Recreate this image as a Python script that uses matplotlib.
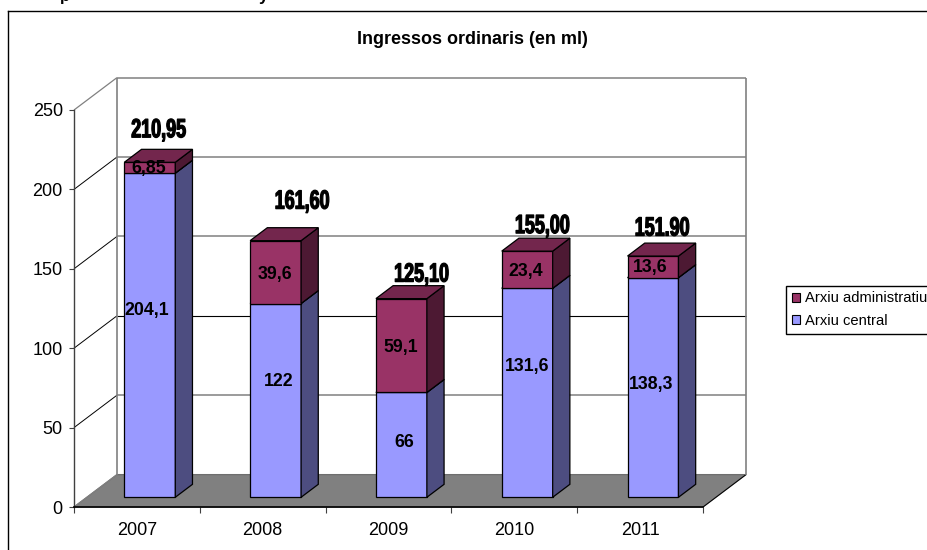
import matplotlib
matplotlib.use("Agg")
import matplotlib.pyplot as plt
from matplotlib.lines import Line2D
from matplotlib.patches import Patch
from matplotlib.transforms import Affine2D
import matplotlib.patheffects as pe

plt.rcParams['font.family'] = ['Liberation Sans', 'DejaVu Sans']

# data
years = ['2007', '2008', '2009', '2010', '2011']
arxiu_central = [204.1, 122, 66, 131.6, 138.3]
arxiu_admin = [6.85, 39.6, 59.1, 23.4, 13.6]
central_labels = ['204,1', '122', '66', '131,6', '138,3']
admin_labels = ['6,85', '39,6', '59,1', '23,4', '13,6']
total_labels = ['210,95', '161,60', '125,10', '155,00', '151.90']
y_ticks = [0, 50, 100, 150, 200, 250]

# hand placed label offsets in pixels, the original labels were moved around
central_off = [(-3, 25), (3, 19), (3, 2), (0, 26), (-2, 2.5)]
admin_off = [(-1, -1), (-1, -2), (-1, -2), (-2, -2), (-3, -1)]
total_off = [(9, 32), (27, 39), (20.5, 24), (15.5, 25), (9.5, 27.5)]

W, H = 928, 550
fig = plt.figure(figsize=(W / 100, H / 100), dpi=100)
ax = fig.add_axes([74 / W, 1 - 507 / H, 629 / W, 397 / H])
ax.set_xlim(0, 5)
ax.set_ylim(0, 250)
ax.patch.set_visible(False)

DEPTH_X = 43 / 125.8
DEPTH_Y = 32.4 / 1.588


# squeezes the totals sideways, they are stretched tall in the original
class Squeeze(pe.AbstractPathEffect):
    def __init__(self, sx, lw):
        super().__init__()
        self.sx = sx
        self.lw = lw

    def draw_path(self, renderer, gc, tpath, affine, rgbFace=None):
        w = tpath.get_extents().width
        squeezed = Affine2D().translate(-w / 2, 0).scale(self.sx, 1).translate(w / 2, 0) + affine
        gc0 = renderer.new_gc()
        gc0.copy_properties(gc)
        gc0.set_linewidth(self.lw)
        gc0.set_foreground('black')
        renderer.draw_path(gc0, tpath, squeezed, rgbFace)
        gc0.restore()


# fake 3d: d=0 is the front of the floor, d=1 the back wall
def p(x, y, d):
    return (x + d * DEPTH_X, y + d * DEPTH_Y)


def poly(points, color, edge='black', lw=0.9, z=3):
    ax.fill(*zip(*points), facecolor=color, edgecolor=edge, linewidth=lw,
            clip_on=False, zorder=z, joinstyle='miter')


def line(a, b, color, lw, z=2):
    ax.plot(*zip(a, b), color=color, linewidth=lw, clip_on=False, zorder=z,
            solid_capstyle='butt')


GRID = '#808080'

# floor
poly([p(0, 0, 0), p(5, 0, 0), p(5, 0, 1), p(0, 0, 1)], GRID, edge='#6e6e6e', lw=0.9, z=1)
line(p(5, 0, 0), p(5, 0, 1), 'black', 0.7)

# walls and gridlines
for v in y_ticks[1:]:
    col = 'black' if v == 100 else GRID
    lw = 0.8 if v == 100 else 1.1
    line(p(0, v, 1), p(5, v, 1), col, lw)
    line(p(0, v, 0), p(0, v, 1), GRID if v == 250 else 'black', 0.9 if v == 250 else 0.7)
line(p(0, 0, 0), p(0, 0, 1), GRID, 0.9)
line(p(0, 0, 1), p(0, 250, 1), GRID, 1.2)
line(p(5, 0, 1), p(5, 250, 1), GRID, 1.2)


def box(x0, x1, y0, y1, front, top, side):
    poly([p(x0, y0, .3), p(x1, y0, .3), p(x1, y1, .3), p(x0, y1, .3)], front)
    poly([p(x1, y0, .3), p(x1, y0, .7), p(x1, y1, .7), p(x1, y1, .3)], side)
    poly([p(x0, y1, .3), p(x1, y1, .3), p(x1, y1, .7), p(x0, y1, .7)], top)


bar_w = 0.405
for i, year in enumerate(years):
    x0 = i + 0.5 - bar_w / 2
    x1 = i + 0.5 + bar_w / 2
    c = arxiu_central[i]
    a = arxiu_admin[i]
    box(x0, x1, 0, c, '#9999FF', '#7373BF', '#4D4D80')
    box(x0, x1, c, c + a, '#993366', '#73264D', '#4D1933')

    cx, _ = p(i + 0.5, 0, .3)
    base = p(0, 0, .3)[1]
    ax.annotate(central_labels[i], (cx, base + c / 2), xytext=central_off[i],
                textcoords='offset pixels', ha='center', va='center',
                fontsize=12.8, fontweight='bold', zorder=6, annotation_clip=False)
    ax.annotate(admin_labels[i], (cx, base + c + a / 2), xytext=admin_off[i],
                textcoords='offset pixels', ha='center', va='center',
                fontsize=12.8, fontweight='bold', zorder=6, annotation_clip=False)
    ax.annotate(total_labels[i], (cx, base + c + a), xytext=total_off[i],
                textcoords='offset pixels', ha='center', va='center',
                fontsize=19, fontweight='bold', zorder=6, annotation_clip=False,
                path_effects=[Squeeze(0.68, 0.9)])

# axes
for s in ['top', 'right']:
    ax.spines[s].set_visible(False)
ax.spines['left'].set_color('#404040')
ax.spines['left'].set_linewidth(1.0)
ax.spines['bottom'].set_color('black')
ax.spines['bottom'].set_linewidth(1.2)
ax.spines['bottom'].set_zorder(4)
ax.set_yticks(y_ticks)
ax.set_xticks(range(6))
ax.set_xticklabels([])
ax.set_xticks([i + 0.5 for i in range(5)], labels=years, minor=True)
ax.tick_params(axis='y', length=3.6, width=0.8, labelsize=13, pad=4.5, color='#404040')
ax.tick_params(axis='x', which='major', length=4.5, width=0.8, color='#404040')
ax.tick_params(axis='x', which='minor', length=0, labelsize=13, pad=10.5)

ax.legend(handles=[Patch(facecolor='#993366', edgecolor='black', linewidth=0.8, label='Arxiu administratiu'),
                   Patch(facecolor='#9999FF', edgecolor='black', linewidth=0.8, label='Arxiu central')],
          loc='upper left', bbox_to_anchor=(786 / W, 1 - 285.5 / H), bbox_transform=fig.transFigure,
          fancybox=False, edgecolor='black', framealpha=1, borderaxespad=0, fontsize=10.6,
          handlelength=0.55, handleheight=0.55, handletextpad=0.34, borderpad=0.4, labelspacing=0.58)

fig.text(472 / W, 1 - 40 / H, 'Ingressos ordinaris (en ml)', ha='center', va='center',
         fontsize=13, fontweight='bold')

# chart frame runs off the picture on the right and at the bottom
fig.add_artist(Line2D([8 / W, 8 / W], [0, 1 - 10.5 / H], color='black', linewidth=1.0))
fig.add_artist(Line2D([8 / W, 1], [1 - 10.5 / H, 1 - 10.5 / H], color='black', linewidth=1.0))

# bottoms of the cut off heading line
fig.text(65 / W, 1 - 0.5 / H, 'p', ha='center', va='baseline', fontsize=12, fontweight='bold')
fig.text(263 / W, 1 - 0.5 / H, 'y', ha='center', va='baseline', fontsize=12, fontweight='bold')

fig.savefig('out.png', dpi=100)
